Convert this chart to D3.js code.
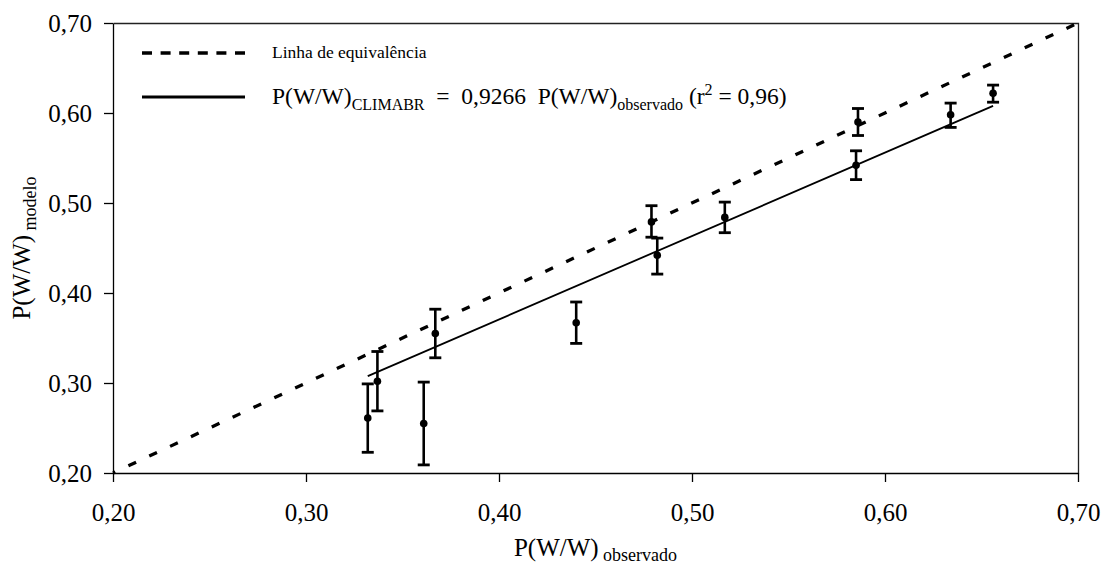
<!DOCTYPE html>
<html>
<head>
<meta charset="utf-8">
<script src="https://cdn.jsdelivr.net/npm/d3@7"></script>
<style>
  body { margin: 0; background: #fff; }
  svg { display: block; font-family: 'Liberation Serif', 'Times New Roman', serif; }
  .axis text { font-size: 25px; fill: #000; }
  .axis path, .axis line { stroke: #000; stroke-width: 1.3; }
</style>
</head>
<body>
<div id="chart"></div>
<script>
// values
const observado = [0.332, 0.337, 0.361, 0.367, 0.440, 0.479, 0.482, 0.517, 0.585, 0.586, 0.634, 0.656]
const modelo = [0.261, 0.302, 0.255, 0.355, 0.367, 0.479, 0.442, 0.484, 0.542, 0.590, 0.598, 0.622]
const erroSup = [0.299, 0.335, 0.301, 0.382, 0.390, 0.497, 0.461, 0.501, 0.558, 0.605, 0.611, 0.631]
const erroInf = [0.223, 0.269, 0.209, 0.328, 0.344, 0.462, 0.421, 0.467, 0.526, 0.575, 0.584, 0.612]
const slope = 0.9266
const axisTicks = [0.2, 0.3, 0.4, 0.5, 0.6, 0.7]
const axisDomain = [0.2, 0.7]

// dimension stuff
const totalWidth = 1104
const totalHeight = 566
const marginTop = 23
const marginLeft = 113
const marginRight = 26
const marginBottom = 93
const width = totalWidth - marginLeft - marginRight
const height = totalHeight - marginTop - marginBottom
const capWidth = 12

const fmt = d => d3.format('.2f')(d).replace('.', ',')

const points = observado.map((x, i) => ({
  x: x,
  y: modelo[i],
  hi: erroSup[i],
  lo: erroInf[i]
}))

// scales
const scaleX = d3.scaleLinear().domain(axisDomain).range([0, width])
const scaleY = d3.scaleLinear().domain(axisDomain).range([height, 0])

const $svg = d3.select('#chart').append('svg')
  .attr('width', totalWidth)
  .attr('height', totalHeight)

$svg.append('rect')
  .attr('width', totalWidth)
  .attr('height', totalHeight)
  .attr('fill', '#fff')

const $g = $svg.append('g')
  .attr('transform', `translate(${marginLeft}, ${marginTop})`)

// box (top + right)
$g.append('path')
  .attr('d', `M0.5,0.5H${width + 0.5}V${height + 0.5}`)
  .attr('fill', 'none')
  .attr('stroke', '#222')
  .attr('stroke-width', 1.3)

// axes
const $xAxis = $g.append('g')
  .attr('class', 'axis')
  .attr('transform', `translate(0, ${height})`)
  .call(d3.axisBottom(scaleX)
    .tickValues(axisTicks)
    .tickFormat(fmt)
    .tickSize(9)
    .tickSizeOuter(0)
    .tickPadding(21))
$xAxis.attr('font-family', null).attr('font-size', null)

const $yAxis = $g.append('g')
  .attr('class', 'axis')
  .call(d3.axisLeft(scaleY)
    .tickValues(axisTicks)
    .tickFormat(fmt)
    .tickSize(9)
    .tickSizeOuter(0)
    .tickPadding(12))
$yAxis.attr('font-family', null).attr('font-size', null)

// equivalence line
const line = d3.line()
  .x(d => scaleX(d[0]))
  .y(d => scaleY(d[1]))

$g.append('path')
  .attr('d', line([[axisDomain[0], axisDomain[0]], [axisDomain[1], axisDomain[1]]]))
  .attr('fill', 'none')
  .attr('stroke', '#000')
  .attr('stroke-width', 3.3)
  .attr('stroke-dasharray', '8.5,14.5')
  .attr('stroke-dashoffset', 6)

// regression line
const xMin = d3.min(observado)
const xMax = d3.max(observado)
$g.append('path')
  .attr('d', line([[xMin, slope * xMin], [xMax, slope * xMax]]))
  .attr('fill', 'none')
  .attr('stroke', '#000')
  .attr('stroke-width', 1.8)

// error bars + points
const $pts = $g.selectAll('.g-point')
  .data(points)
  .enter()
  .append('g')
  .attr('class', 'g-point')

$pts.append('line')
  .attr('x1', d => scaleX(d.x))
  .attr('x2', d => scaleX(d.x))
  .attr('y1', d => scaleY(d.hi))
  .attr('y2', d => scaleY(d.lo))
  .attr('stroke', '#000')
  .attr('stroke-width', 2.6)

$pts.selectAll('.cap')
  .data(d => [{x: d.x, v: d.hi}, {x: d.x, v: d.lo}])
  .enter()
  .append('line')
  .attr('class', 'cap')
  .attr('x1', d => scaleX(d.x) - capWidth / 2)
  .attr('x2', d => scaleX(d.x) + capWidth / 2)
  .attr('y1', d => scaleY(d.v))
  .attr('y2', d => scaleY(d.v))
  .attr('stroke', '#000')
  .attr('stroke-width', 2.8)

$pts.append('circle')
  .attr('cx', d => scaleX(d.x))
  .attr('cy', d => scaleY(d.y))
  .attr('r', 3.8)
  .attr('fill', '#000')

// axis titles
const $xTitle = $svg.append('text')
  .attr('x', marginLeft + width / 2)
  .attr('y', 556)
  .attr('text-anchor', 'middle')
  .style('white-space', 'pre')
  .style('font-size', '25px')
$xTitle.append('tspan').text('P(W/W)')
$xTitle.append('tspan').text(' observado').style('font-size', '18px').attr('dy', 5)

const $yTitle = $svg.append('text')
  .attr('transform', `translate(30, ${marginTop + height / 2}) rotate(-90)`)
  .attr('text-anchor', 'middle')
  .style('white-space', 'pre')
  .style('font-size', '25px')
$yTitle.append('tspan').text('P(W/W)')
$yTitle.append('tspan').text(' modelo').style('font-size', '18px').attr('dy', 6)

// legend
const $legend = $svg.append('g').attr('class', 'legend')

$legend.append('line')
  .attr('x1', 142).attr('x2', 245)
  .attr('y1', 53).attr('y2', 53)
  .attr('stroke', '#000')
  .attr('stroke-width', 3.3)
  .attr('stroke-dasharray', '10,8.6')

$legend.append('text')
  .attr('x', 272)
  .attr('y', 58)
  .style('font-size', '17.5px')
  .text('Linha de equivalência')

$legend.append('line')
  .attr('x1', 142).attr('x2', 245)
  .attr('y1', 97).attr('y2', 97)
  .attr('stroke', '#000')
  .attr('stroke-width', 3)

const $eq = $legend.append('text')
  .attr('x', 272)
  .attr('y', 104)
  .style('white-space', 'pre')
  .style('font-size', '23.5px')
$eq.append('tspan').text('P(W/W)')
$eq.append('tspan').text('CLIMABR').style('font-size', '16px').attr('dy', 6)
$eq.append('tspan').text('  =  0,9266  P(W/W)').attr('dy', -6)
$eq.append('tspan').text('observado').style('font-size', '16px').attr('dy', 6)
$eq.append('tspan').text(' (r').attr('dy', -6)
$eq.append('tspan').text('2').style('font-size', '16px').attr('dy', -9)
$eq.append('tspan').text(' = 0,96)').attr('dy', 9)
</script>
</body>
</html>
